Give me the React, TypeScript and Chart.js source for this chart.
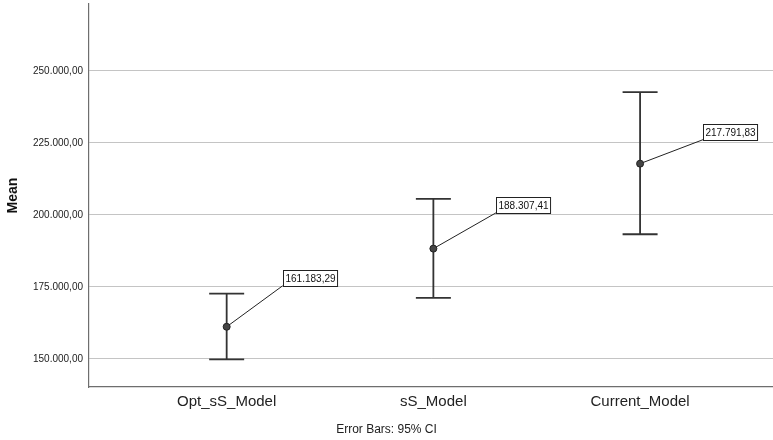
import React, { useEffect, useRef } from "react";
import { Chart, registerables } from "chart.js";

Chart.register(...registerables);

const categories = ["Opt_sS_Model", "sS_Model", "Current_Model"];
const means = [161183.29, 188307.41, 217791.83];
const ciLow = [149900, 171200, 193300];
const ciHigh = [172700, 205550, 242600];
const yTicks = [150000, 175000, 200000, 225000, 250000];
const yTitle = "Mean";
const footnote = "Error Bars: 95% CI";

function fmt(v: number): string {
  const neg = v < 0;
  const fixed = Math.abs(v).toFixed(2);
  const [ip, dp] = fixed.split(".");
  const withDots = ip.replace(/\B(?=(\d{3})+(?!\d))/g, ".");
  return (neg ? "-" : "") + withDots + "," + dp;
}

const labelOffsets = [
  [56, -41],
  [63, -36],
  [63, -24],
];

const errorBarPlugin = {
  id: "errorBars",
  beforeDatasetsDraw(chart: any) {
    const { ctx, scales } = chart;
    const xs = scales.x;
    const ys = scales.y;
    ctx.save();
    ctx.strokeStyle = "#333333";
    ctx.lineWidth = 1.8;
    const half = 17.5;
    for (let i = 0; i < means.length; i++) {
      const x = xs.getPixelForValue(i + 1);
      const yl = ys.getPixelForValue(ciLow[i]);
      const yh = ys.getPixelForValue(ciHigh[i]);
      ctx.beginPath();
      ctx.moveTo(x, yl);
      ctx.lineTo(x, yh);
      ctx.moveTo(x - half, yl);
      ctx.lineTo(x + half, yl);
      ctx.moveTo(x - half, yh);
      ctx.lineTo(x + half, yh);
      ctx.stroke();
    }
    ctx.strokeStyle = "#222222";
    ctx.lineWidth = 1;
    for (let i = 0; i < means.length; i++) {
      const x = xs.getPixelForValue(i + 1);
      const y = ys.getPixelForValue(means[i]);
      const [dx, dy] = labelOffsets[i];
      ctx.beginPath();
      ctx.moveTo(x, y);
      ctx.lineTo(x + dx, y + dy);
      ctx.stroke();
    }
    ctx.restore();
  },
  afterDatasetsDraw(chart: any) {
    const { ctx, scales } = chart;
    const xs = scales.x;
    const ys = scales.y;
    ctx.save();
    ctx.font = "10px 'Liberation Sans', Arial, sans-serif";
    ctx.textBaseline = "middle";
    ctx.textAlign = "left";
    for (let i = 0; i < means.length; i++) {
      const x = xs.getPixelForValue(i + 1);
      const y = ys.getPixelForValue(means[i]);
      const [dx, dy] = labelOffsets[i];
      const text = fmt(means[i]);
      const w = ctx.measureText(text).width + 4;
      const h = 16;
      const bx = Math.round(x + dx) + 0.5;
      const by = Math.round(y + dy - h) + 0.5;
      ctx.fillStyle = "#ffffff";
      ctx.fillRect(bx, by, w, h);
      ctx.strokeStyle = "#222222";
      ctx.lineWidth = 1;
      ctx.strokeRect(bx, by, w, h);
      ctx.fillStyle = "#111111";
      ctx.fillText(text, bx + 2, by + h / 2 + 0.5);
    }
    ctx.restore();
  },
};

export default function App() {
  const ref = useRef<HTMLCanvasElement | null>(null);
  useEffect(() => {
    if (!ref.current) return;
    const chart = new Chart(ref.current, {
      type: "scatter",
      data: {
        datasets: [
          {
            data: means.map((m, i) => ({ x: i + 1, y: m })),
            pointRadius: 3.5,
            pointBackgroundColor: "#444444",
            pointBorderColor: "#222222",
            pointBorderWidth: 1,
          },
        ],
      },
      options: {
        animation: false,
        responsive: false,
        maintainAspectRatio: false,
        layout: { autoPadding: false, padding: { top: 4, right: 0, left: 0, bottom: 0 } },
        plugins: {
          legend: { display: false },
          tooltip: { enabled: false },
          title: {
            display: true,
            text: footnote,
            position: "bottom",
            color: "#222222",
            font: { family: "'Liberation Sans', Arial, sans-serif", size: 12, weight: "normal" },
            padding: { top: 4, bottom: 3 },
          },
        },
        scales: {
          x: {
            type: "linear",
            min: 0.334,
            max: 3.643,
            afterBuildTicks: (scale: any) => {
              scale.ticks = categories.map((_, i) => ({ value: i + 1 }));
            },
            afterFit: (scale: any) => {
              scale.height = 31.6;
              scale.paddingLeft = 0;
              scale.paddingRight = 0;
            },
            ticks: {
              autoSkip: false,
              maxRotation: 0,
              padding: 6,
              color: "#222222",
              font: { family: "'Liberation Sans', Arial, sans-serif", size: 15 },
              callback: (v: any) => categories[Number(v) - 1] ?? "",
            },
            grid: { display: false, drawTicks: false },
            border: { display: true, color: "#6e6e6e", width: 1.2 },
          },
          y: {
            min: 140280,
            max: 273200,
            afterBuildTicks: (scale: any) => {
              scale.ticks = yTicks.map((v) => ({ value: v }));
            },
            afterFit: (scale: any) => {
              scale.width = 89;
              scale.paddingTop = 0;
              scale.paddingBottom = 0;
            },
            ticks: {
              padding: 6,
              color: "#222222",
              font: { family: "'Liberation Sans', Arial, sans-serif", size: 10 },
              callback: (v: any) => fmt(Number(v)),
            },
            grid: { color: "#c4c4c4", lineWidth: 1, drawTicks: false },
            border: { display: true, color: "#6e6e6e", width: 1.2 },
            title: {
              display: true,
              text: yTitle,
              color: "#111111",
              font: { family: "'Liberation Sans', Arial, sans-serif", size: 14, weight: "bold" },
              padding: { top: 5, bottom: 0 },
            },
          },
        },
      },
      plugins: [errorBarPlugin],
    } as any);
    return () => chart.destroy();
  }, []);
  return (
    <div style={{ position: "fixed", left: 0, top: 0, width: 773, height: 440, background: "#ffffff" }}>
      <canvas ref={ref} width={773} height={440} style={{ width: 773, height: 440, display: "block" }} />
    </div>
  );
}
